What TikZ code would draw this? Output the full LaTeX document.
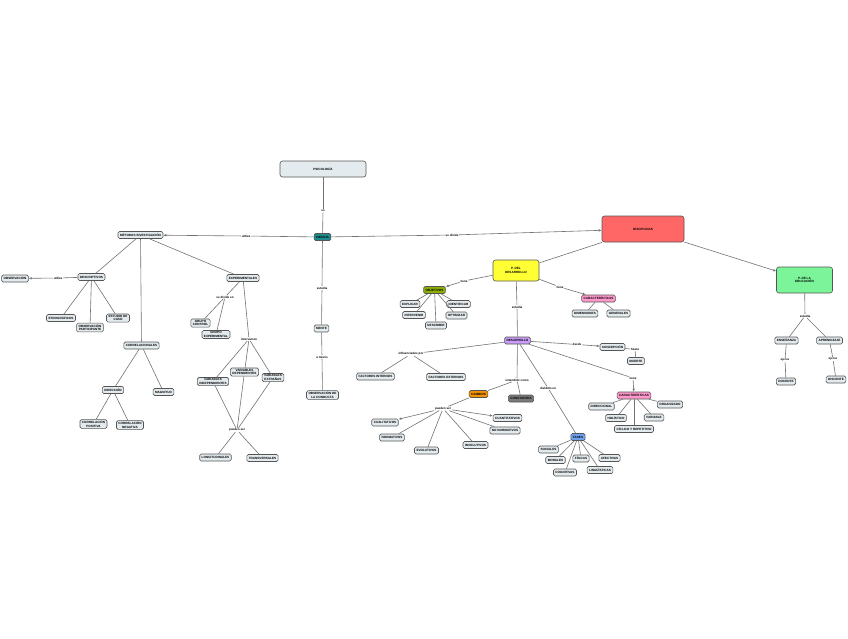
\documentclass[tikz,border=0pt]{standalone}
\usepackage{fontspec}
\setmainfont{Liberation Sans}
\usetikzlibrary{arrows.meta}
\definecolor{nfill}{HTML}{E4EBEE}
\definecolor{nline}{HTML}{555555}
\definecolor{cteal}{HTML}{1E8C8C}
\definecolor{cred}{HTML}{FF6666}
\definecolor{cyel}{HTML}{FFFF33}
\definecolor{cgreen}{HTML}{7CF59A}
\definecolor{colive}{HTML}{8DB000}
\definecolor{cpink}{HTML}{FF99CC}
\definecolor{cpurple}{HTML}{C89CF8}
\definecolor{corange}{HTML}{F39200}
\definecolor{cdgray}{HTML}{7A7A7A}
\definecolor{cblue}{HTML}{6FA3F0}
\begin{document}
\begin{tikzpicture}[x=1pt,y=-1pt,
  box/.style={draw=nline, fill=nfill, rounded corners=1.5pt, line width=0.6pt,
    font=\fontsize{3.1}{3.5}\selectfont\bfseries, inner xsep=2pt, inner ysep=1.2pt,
    minimum height=7pt, align=center},
  big/.style={box, rounded corners=2.5pt},
  lbl/.style={font=\fontsize{3}{3.4}\selectfont\bfseries, fill=white, inner sep=0.6pt},
  ln/.style={draw=black!55, line width=0.6pt},
  arr/.style={ln, -{Latex[length=3pt,width=2.6pt]}}
]
\useasboundingbox (0,0) rectangle (848,638);
\fill[white] (0,0) rectangle (848,638);

% ---------- centre ----------
\node[big, minimum width=86pt, minimum height=16pt] (psi) at (323,169) {PSICOLOGÍA};
\node[box, fill=cteal] (ciencia) at (322.5,237) {CIENCIA};
\node[lbl] (es) at (323,211) {es};
\node[lbl] (estudia1) at (322,288) {estudia};
\node[box] (mente) at (321.5,328.5) {MENTE};
\node[lbl] (atraves) at (322,357) {a través};
\node[box] (obscond) at (322.5,395) {OBSERVACIÓN DE\\LA CONDUCTA};
\node[lbl] (utiliza1) at (246,236) {utiliza};
\node[lbl] (sedivide) at (452,235) {se divide};

% ---------- left: métodos ----------
\node[box] (metodos) at (140.5,235) {MÉTODOS INVESTIGACIÓN};
\node[box] (desc) at (91.5,277) {DESCRIPTIVOS};
\node[lbl] (utiliza2) at (58,278) {utiliza};
\node[box] (obs) at (15,278.5) {OBSERVACIÓN};
\node[box] (etno) at (61,318) {ETNOGRÁFICOS};
\node[box] (obspart) at (90,327.5) {OBSERVACIÓN\\PARTICIPANTE};
\node[box] (estcaso) at (118,318) {ESTUDIO DE\\CASO};
\node[box] (corr) at (141.5,345.5) {CORRELACIONALES};
\node[box] (dir) at (113,390) {DIRECCIÓN};
\node[box] (mag) at (163.5,392) {MAGNITUD};
\node[box] (cpos) at (93.5,424) {CORRELACIÓN\\POSITIVA};
\node[box] (cneg) at (130,425) {CORRELACIÓN\\NEGATIVA};
\node[box] (exper) at (243,278) {EXPERIMENTALES};
\node[lbl] (sedivexp) at (225,297) {se divide en};
\node[box] (gcontrol) at (200.5,323) {GRUPO\\CONTROL};
\node[box] (gexp) at (216,334.5) {GRUPO\\EXPERIMENTAL};
\node[lbl] (interv) at (249,339) {intervienen};
\node[box] (vind) at (213,381.5) {VARIABLES\\INDEPENDIENTES};
\node[box] (vdep) at (244.5,372) {VARIABLES\\DEPENDIENTES};
\node[box] (vext) at (273,377.5) {VARIABLES\\EXTRAÑAS};
\node[lbl] (pueden1) at (237,430) {pueden ser};
\node[box] (longi) at (215.5,457.5) {LONGITUDINALES};
\node[box] (trans) at (262.5,458) {TRANSVERSALES};

% ---------- right: disciplinas ----------
\node[big, fill=cred, minimum width=82pt, minimum height=26pt] (disc) at (643,229) {DISCIPLINAS};
\node[big, fill=cyel, minimum width=46pt, minimum height=21pt] (pdd) at (516,270.5) {P. DEL\\DESARROLLO};
\node[big, fill=cgreen, minimum width=56pt, minimum height=26pt] (pde) at (804.5,280) {P. DE LA\\EDUCACIÓN};

\node[lbl] (tiene1) at (464,281) {tiene};
\node[box, fill=colive] (obj) at (434.5,290) {OBJETIVOS};
\node[box] (explicar) at (410,304) {EXPLICAR};
\node[box] (ident) at (458.5,304) {IDENTIFICAR};
\node[box] (intervenir) at (414,315) {INTERVENIR};
\node[box] (optim) at (456.5,315.5) {OPTIMIZAR};
\node[box] (descr) at (436,325.5) {DESCRIBIR};

\node[lbl] (tiene2) at (560,287) {tiene};
\node[box, fill=cpink] (car1) at (598.5,298.5) {CARACTERÍSTICAS};
\node[box] (dim) at (585,313.5) {DIMENSIONES};
\node[box] (gen) at (618.5,313.5) {GENERALES};

\node[lbl] (estudia2) at (517,307) {estudia};
\node[box, fill=cpurple] (desa) at (517.5,340.5) {DESARROLLO};

\node[lbl] (influ) at (411,354) {influenciados por};
\node[box] (fint) at (375.5,376.5) {FACTORES INTERNOS};
\node[box] (fext) at (446,377) {FACTORES EXTERNOS};

\node[lbl] (entendido) at (517,380) {entendido como};
\node[box, fill=corange] (cambios) at (478.5,394) {CAMBIOS};
\node[box, fill=cdgray] (const) at (521,398.5) {CONSTANTES};
\node[lbl] (pueden2) at (443,408.5) {pueden ser};
\node[box] (cual) at (385,422.5) {CUALITATIVOS};
\node[box] (cuant) at (507.5,418) {CUANTITATIVOS};
\node[box] (norm) at (392,437.5) {NORMATIVOS};
\node[box] (nonorm) at (505,430.5) {NO NORMATIVOS};
\node[box] (evol) at (426.5,450.5) {EVOLUTIVOS};
\node[box] (invol) at (475.5,445) {INVOLUTIVOS};

\node[lbl] (dividido) at (548,388) {dividido en};
\node[box, fill=cblue] (fases) at (578,437) {FASES};
\node[box] (soc) at (548.5,449.5) {SOCIALES};
\node[box] (mor) at (555.5,460) {MORALES};
\node[box] (fis) at (581,458.5) {FÍSICAS};
\node[box] (afec) at (609.5,458) {AFECTIVAS};
\node[box] (cogn) at (565,472.5) {COGNITIVAS};
\node[box] (ling) at (600,470) {LINGÜÍSTICAS};

\node[lbl] (desde) at (577,344.5) {desde};
\node[box] (concep) at (612.5,347) {CONCEPCIÓN};
\node[lbl] (hasta) at (635,349.5) {hasta};
\node[box] (muerte) at (636,361) {MUERTE};

\node[lbl] (tiene3) at (633,378) {tiene};
\node[box, fill=cpink] (car2) at (634,395.5) {CARACTERÍSTICAS};
\node[box] (direc) at (601.5,406.5) {DIRECCIONAL};
\node[box] (organ) at (670,404.5) {ORGANIZADO};
\node[box] (holis) at (616,418) {HOLÍSTICO};
\node[box] (variab) at (654,417.5) {VARIABLE};
\node[box] (ciclico) at (634,429) {CÍCLICO Y REPETITIVO};

\node[lbl] (estudia3) at (805,316) {estudia};
\node[box] (ensen) at (786.5,340.5) {ENSEÑANZA};
\node[box] (apren) at (829.5,340.5) {APRENDIZAJE};
\node[lbl] (ejerce1) at (785,360) {ejerce};
\node[lbl] (ejerce2) at (833,359) {ejerce};
\node[box] (docente) at (786,381.5) {DOCENTE};
\node[box] (discente) at (836,379.5) {DISCENTE};

% ---------- connectors ----------
\begin{scope}[on background layer/.style={}]
\end{scope}
\draw[ln] (psi) -- (es); \draw[ln] (es) -- (ciencia);
\draw[ln] (ciencia) -- (utiliza1); \draw[arr] (utiliza1) -- (metodos);
\draw[ln] (ciencia) -- (sedivide); \draw[arr] (sedivide) -- (disc);
\draw[ln] (ciencia) -- (estudia1); \draw[ln] (estudia1) -- (mente);
\draw[ln] (mente) -- (atraves); \draw[ln] (atraves) -- (obscond);

\draw[ln] (metodos) -- (desc);
\draw[ln] (metodos) -- (corr);
\draw[ln] (metodos) -- (exper);
\draw[ln] (desc) -- (utiliza2); \draw[arr] (utiliza2) -- (obs);
\draw[ln] (desc) -- (etno);
\draw[ln] (desc) -- (obspart);
\draw[ln] (desc) -- (estcaso);
\draw[ln] (corr) -- (dir);
\draw[ln] (corr) -- (mag);
\draw[ln] (dir) -- (cpos);
\draw[ln] (dir) -- (cneg);
\draw[ln] (exper) -- (sedivexp);
\draw[ln] (sedivexp) -- (gcontrol);
\draw[ln] (sedivexp) -- (gexp);
\draw[ln] (exper) -- (interv);
\draw[ln] (interv) -- (vind);
\draw[ln] (interv) -- (vdep);
\draw[ln] (interv) -- (vext);
\draw[ln] (vind) -- (pueden1);
\draw[ln] (vdep) -- (pueden1);
\draw[ln] (vext) -- (pueden1);
\draw[ln] (pueden1) -- (longi);
\draw[ln] (pueden1) -- (trans);

\draw[ln] (disc) -- (pdd);
\draw[arr] (disc) -- (pde);
\draw[ln] (pdd) -- (tiene1); \draw[arr] (tiene1) -- (obj);
\draw[ln] (obj) -- (explicar);
\draw[ln] (obj) -- (ident);
\draw[ln] (obj) -- (intervenir);
\draw[ln] (obj) -- (optim);
\draw[ln] (obj) -- (descr);
\draw[ln] (pdd) -- (tiene2); \draw[arr] (tiene2) -- (car1);
\draw[ln] (car1) -- (dim);
\draw[ln] (car1) -- (gen);
\draw[ln] (pdd) -- (estudia2); \draw[ln] (estudia2) -- (desa);
\draw[ln] (desa) -- (influ);
\draw[ln] (influ) -- (fint);
\draw[ln] (influ) -- (fext);
\draw[ln] (desa) -- (entendido);
\draw[ln] (entendido) -- (cambios);
\draw[ln] (entendido) -- (const);
\draw[ln] (cambios) -- (pueden2);
\draw[arr] (pueden2) -- (cual);
\draw[arr] (pueden2) -- (cuant);
\draw[ln] (pueden2) -- (norm);
\draw[ln] (pueden2) -- (nonorm);
\draw[ln] (pueden2) -- (evol);
\draw[ln] (pueden2) -- (invol);
\draw[ln] (desa) -- (dividido); \draw[ln] (dividido) -- (fases);
\draw[ln] (fases) -- (soc);
\draw[ln] (fases) -- (mor);
\draw[ln] (fases) -- (fis);
\draw[ln] (fases) -- (afec);
\draw[ln] (fases) -- (cogn);
\draw[ln] (fases) -- (ling);
\draw[ln] (desa) -- (desde); \draw[arr] (desde) -- (concep);
\draw[ln] (concep) -- (hasta); \draw[ln] (hasta) -- (muerte);
\draw[ln] (desa) -- (tiene3); \draw[arr] (tiene3) -- (car2);
\draw[ln] (car2) -- (direc);
\draw[ln] (car2) -- (organ);
\draw[ln] (car2) -- (holis);
\draw[ln] (car2) -- (variab);
\draw[ln] (car2) -- (ciclico);

\draw[ln] (pde) -- (estudia3);
\draw[ln] (estudia3) -- (ensen);
\draw[ln] (estudia3) -- (apren);
\draw[ln] (ensen) -- (ejerce1); \draw[ln] (ejerce1) -- (docente);
\draw[ln] (apren) -- (ejerce2); \draw[ln] (ejerce2) -- (discente);
\end{tikzpicture}
\end{document}
